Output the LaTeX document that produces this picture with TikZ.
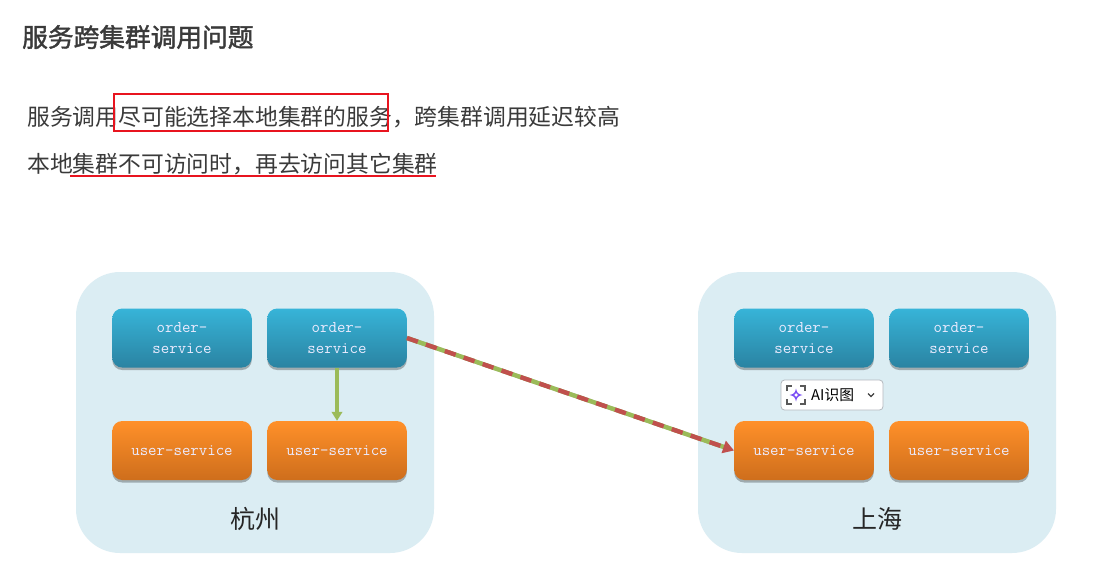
\documentclass[tikz,border=0pt]{standalone}
\usepackage{fontspec}
\setmainfont{Noto Sans CJK SC}
\newfontfamily\titlefont[FakeBold=1.6]{Noto Sans CJK SC}
\usetikzlibrary{shadows,arrows.meta,calc}
\definecolor{groupbg}{HTML}{DBEDF3}
\definecolor{bodytext}{HTML}{3A3A3A}
\definecolor{blueTop}{HTML}{37B4D8}
\definecolor{blueBot}{HTML}{2A83A2}
\definecolor{orangeTop}{HTML}{FF9029}
\definecolor{orangeBot}{HTML}{CE6E1C}
\definecolor{mark}{HTML}{E8141F}
\definecolor{linkgreen}{HTML}{9BBB59}
\definecolor{linkred}{HTML}{C0504D}
\definecolor{badgeline}{HTML}{B4B8BE}
\definecolor{starviolet}{HTML}{7A4DF5}
\newcommand{\fwcomma}{\char"FF0C\relax}
\tikzset{
  x=1pt,y=-1pt,
  groupbox/.style={fill=groupbg,rounded corners=44pt,minimum width=358pt,minimum height=281pt,inner sep=0pt},
  svcbox/.style={rounded corners=10pt,minimum width=139.5pt,minimum height=59pt,inner sep=0pt,
    align=center,text=white!92!blue,font=\ttfamily\fontsize{16.4}{21}\selectfont,
    drop shadow={shadow xshift=0pt,shadow yshift=-2.5pt,opacity=.28,fill=black}},
  orderbox/.style={svcbox,top color=blueTop,bottom color=blueBot},
  userbox/.style={svcbox,top color=orangeTop,bottom color=orangeBot},
  citylabel/.style={font=\fontsize{25}{25}\selectfont,text=black!85,inner sep=0pt},
  bodyline/.style={font=\fontsize{22.8}{26}\selectfont,text=bodytext,inner sep=0pt,anchor=west},
  titleline/.style={font=\titlefont\fontsize{25.7}{28}\selectfont,text=bodytext,inner sep=0pt,anchor=west},
  linkshadow/.style={draw=black,opacity=.22,line width=4.2pt,shift={(0pt,-2.5pt)}},
  greenlink/.style={draw=linkgreen,line width=3.6pt,-{Triangle[length=9pt,width=10.5pt,fill=linkgreen]}},
  greenbase/.style={draw=linkgreen,line width=4.4pt,shorten >=6pt},
  reddash/.style={draw=linkred,line width=4.4pt,dash pattern=on 11.5pt off 8.5pt,-{Triangle[length=11pt,width=12.5pt,fill=linkred]}},
  markup/.style={draw=mark,line width=2pt},
}
\begin{document}
\begin{tikzpicture}
\useasboundingbox (0,0) rectangle (1097,579);
\fill[white] (0,0) rectangle (1097,579);

\node[titleline] (title) at (22,37) {服务跨集群调用问题};
\node[bodyline] (line1) at (27,117) {服务调用尽可能选择本地集群的服务\fwcomma 跨集群调用延迟较高};
\node[bodyline] (line2) at (27,164) {本地集群不可访问时\fwcomma 再去访问其它集群};
\node[draw=mark,line width=2pt,minimum width=274pt,minimum height=37pt,inner sep=0pt] (rectmark) at (250.5,112) {};
\coordinate (ulstart) at (70,176);
\coordinate (ulend) at (436,176);
\draw[markup,line width=2.4pt] (ulstart) -- (ulend);

\node[groupbox] (hz) at (255,412.5) {};
\node[groupbox] (sh) at (877,412.5) {};

\node[orderbox] (o1) at (182,338) {order-\\service};
\node[orderbox] (o2) at (337,338) {order-\\service};
\node[userbox]  (u1) at (182,450.5) {user-service};
\node[userbox]  (u2) at (337,450.5) {user-service};
\node[orderbox] (o3) at (804,338) {order-\\service};
\node[orderbox] (o4) at (959,338) {order-\\service};
\node[userbox]  (u3) at (804,450.5) {user-service};
\node[userbox]  (u4) at (959,450.5) {user-service};

\node[citylabel] (hzlabel) at (255,519) {杭州};
\node[citylabel] (shlabel) at (877,519) {上海};

\draw[greenlink] (o2.south) -- (u2.north);
\draw[linkshadow,shorten >=4pt] (o2.east) -- (u3.west);
\draw[greenbase] (o2.east) -- (u3.west);
\draw[reddash] (o2.east) -- (u3.west);

\node[draw=badgeline,fill=white,rounded corners=3.5pt,line width=.8pt,minimum width=102pt,minimum height=30pt,inner sep=0pt] (badge) at (832,395) {};
\node[font=\fontsize{14.8}{15}\selectfont,text=black,inner sep=0pt,anchor=west] (badgetext) at (811,395) {AI识图};
\begin{scope}[shift={(796,395)},line width=1.3pt,draw=black!65]
  \draw (-9,-4) -- (-9,-9) -- (-4,-9);
  \draw (4,-9) -- (9,-9) -- (9,-4);
  \draw (-9,4) -- (-9,9) -- (-4,9);
  \draw (4,9) -- (9,9) -- (9,4);
  \path[fill=starviolet,even odd rule] (0,-6.5) .. controls (1,-2) and (2,-1) .. (6.5,0) .. controls (2,1) and (1,2) .. (0,6.5) .. controls (-1,2) and (-2,1) .. (-6.5,0) .. controls (-2,-1) and (-1,-2) .. (0,-6.5) -- cycle (0,-2) -- (2,0) -- (0,2) -- (-2,0) -- cycle;
\end{scope}
\draw[black!75,line width=1.2pt] (868,393.5) -- (871,396.5) -- (874,393.5);
\end{tikzpicture}
\end{document}
